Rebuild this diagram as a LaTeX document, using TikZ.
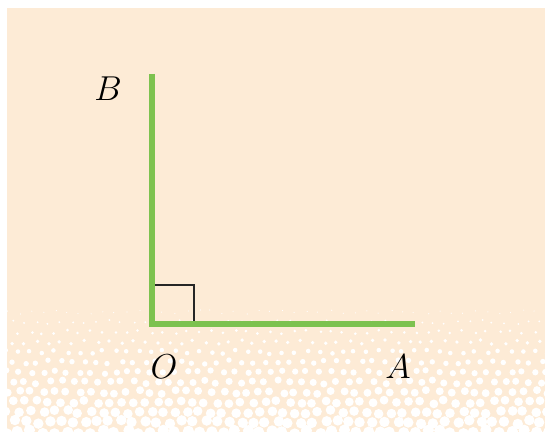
\documentclass[tikz,border=0pt]{standalone}
\usepackage{amsmath}
\usetikzlibrary{calc}
\definecolor{peach}{RGB}{253,235,214}
\definecolor{legGreen}{RGB}{125,194,79}
\tikzset{
  leg/.style={line width=2.6pt, legGreen},
  rightmark/.style={line width=1pt, black!85},
  lbl/.style={font=\fontsize{18}{20}\selectfont}
}
\begin{document}
\begin{tikzpicture}[x=0.5pt, y=-0.5pt]
  \useasboundingbox (0,0) rectangle (545,432);

  % Background with halftone fade
  \fill[peach] (7,8) rectangle (545,432);
  \pgfmathsetseed{7}
  \begin{scope}
    \clip (7,8) rectangle (545,432);
    \foreach \j in {0,...,12}{
      \foreach \i in {0,...,46}{
        \pgfmathsetmacro{\yy}{312+10*\j}
        \pgfmathsetmacro{\xx}{7+12*\i+mod(\j,2)*6}
        \pgfmathsetmacro{\rr}{0.6+0.42*\j}
        \fill[white] (\xx+rand*2,\yy+rand*2) circle[radius=\rr];
      }
    }
  \end{scope}

  % Points
  \coordinate (O) at (152,324);
  \coordinate (A) at (415,324);
  \coordinate (B) at (152,74);

  % Right angle mark
  \draw[rightmark] ($(O)+(0,-39)$) -| ($(O)+(42,0)$);

  % The two arms
  \draw[leg] (B) -- (O) -- (A);

  % Labels
  \node[lbl] (labB) at (108,89) {$B$};
  \node[lbl] (labO) at (164,367) {$O$};
  \node[lbl] (labA) at (398,367) {$A$};
\end{tikzpicture}
\end{document}
